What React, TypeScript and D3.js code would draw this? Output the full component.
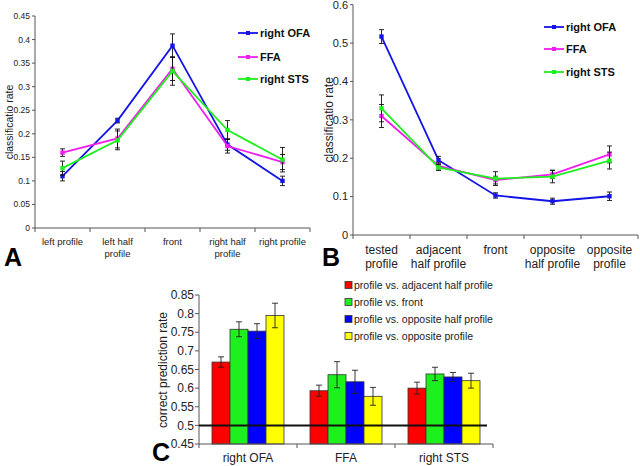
import React from "react";
import * as d3 from "d3";

const seriesNames = ["right OFA", "FFA", "right STS"];
const seriesColors = ["#1414e6", "#f01ef0", "#1ef01e"];

const catsA = [["left profile"], ["left half", "profile"], ["front"], ["right half", "profile"], ["right profile"]];
const valsA = [
  [0.11, 0.228, 0.387, 0.177, 0.1],
  [0.16, 0.19, 0.338, 0.174, 0.14],
  [0.127, 0.186, 0.333, 0.208, 0.145],
];
const errA = [
  [0.01, 0.005, 0.025, 0.012, 0.01],
  [0.008, 0.02, 0.025, 0.015, 0.016],
  [0.015, 0.02, 0.03, 0.02, 0.026],
];
const ticksA = [0, 0.05, 0.1, 0.15, 0.2, 0.25, 0.3, 0.35, 0.4, 0.45];

const catsB = [["tested", "profile"], ["adjacent", "half profile"], ["front"], ["opposite", "half profile"], ["opposite", "profile"]];
const valsB = [
  [0.517, 0.195, 0.103, 0.088, 0.101],
  [0.31, 0.18, 0.143, 0.158, 0.21],
  [0.33, 0.176, 0.147, 0.152, 0.194],
];
const errB = [
  [0.018, 0.01, 0.007, 0.008, 0.011],
  [0.03, 0.008, 0.01, 0.011, 0.022],
  [0.035, 0.008, 0.018, 0.016, 0.022],
];
const ticksB = [0, 0.1, 0.2, 0.3, 0.4, 0.5, 0.6];

const groupsC = ["right OFA", "FFA", "right STS"];
const barNamesC = ["profile vs. adjacent half profile", "profile vs. front", "profile vs. opposite half profile", "profile vs. opposite profile"];
const barColorsC = ["#ff0000", "#1ef01e", "#0000ff", "#ffff00"];
const valsC = [
  [0.67, 0.758, 0.753, 0.795],
  [0.593, 0.636, 0.617, 0.578],
  [0.6, 0.638, 0.63, 0.62],
];
const errC = [
  [0.014, 0.02, 0.02, 0.033],
  [0.015, 0.035, 0.031, 0.024],
  [0.016, 0.018, 0.012, 0.02],
];
const ticksC = [0.45, 0.5, 0.55, 0.6, 0.65, 0.7, 0.75, 0.8, 0.85];

const FONT = "Liberation Sans, Arial, sans-serif";
const AXIS = "#555";

type LP = {
  x0: number; x1: number; y0: number; y1: number; dom: number[];
  cats: string[][]; vals: number[][]; errs: number[][]; ticks: number[];
  tickFont: number; catFont: number; catY: number; lineH: number;
  yLabelX: number; yLabelFont: number; legX: number; legY: number[]; legFont: number;
  fmt: (v: number) => string;
};

function LinePanel(p: LP) {
  const x = d3.scaleBand<number>().domain(d3.range(p.cats.length)).range([p.x0, p.x1]);
  const y = d3.scaleLinear().domain(p.dom).range([p.y0, p.y1]);
  const line = d3.line<number>().x((_, i) => (x(i) as number) + x.bandwidth() / 2).y((v) => y(v));
  const bounds = d3.range(p.cats.length + 1).map((i) => p.x0 + i * x.step());
  return (
    <g fontFamily={FONT}>
      <line x1={p.x0} x2={p.x0} y1={p.y0} y2={p.y1} stroke={AXIS} />
      <line x1={p.x0} x2={p.x1} y1={p.y0} y2={p.y0} stroke={AXIS} />
      {p.ticks.map((t) => (
        <g key={t}>
          <line x1={p.x0 - 3} x2={p.x0} y1={y(t)} y2={y(t)} stroke={AXIS} />
          <text x={p.x0 - 5} y={y(t)} dy="0.35em" textAnchor="end" fontSize={p.tickFont} fill="#222">{p.fmt(t)}</text>
        </g>
      ))}
      {bounds.map((b, i) => (
        <line key={i} x1={b} x2={b} y1={p.y0} y2={p.y0 + 4} stroke={AXIS} />
      ))}
      {p.cats.map((c, i) => (
        <text key={i} x={(x(i) as number) + x.bandwidth() / 2} y={p.catY} textAnchor="middle" fontSize={p.catFont} fill="#222">
          {c.map((s, j) => (
            <tspan key={j} x={(x(i) as number) + x.bandwidth() / 2} dy={j === 0 ? 0 : p.lineH}>{s}</tspan>
          ))}
        </text>
      ))}
      <text transform={`translate(${p.yLabelX},${(p.y0 + p.y1) / 2}) rotate(-90)`} textAnchor="middle" dy="0.35em" fontSize={p.yLabelFont} fill="#222">classificatio rate</text>
      {p.vals.map((vs, s) => (
        <g key={s}>
          <path d={line(vs) || ""} fill="none" stroke={seriesColors[s]} strokeWidth={1.8} />
          {vs.map((v, i) => {
            const cx = (x(i) as number) + x.bandwidth() / 2;
            const e = p.errs[s][i];
            return (
              <g key={i}>
                <line x1={cx} x2={cx} y1={y(v - e)} y2={y(v + e)} stroke="#111" strokeWidth={0.9} />
                <line x1={cx - 2.5} x2={cx + 2.5} y1={y(v - e)} y2={y(v - e)} stroke="#111" strokeWidth={0.9} />
                <line x1={cx - 2.5} x2={cx + 2.5} y1={y(v + e)} y2={y(v + e)} stroke="#111" strokeWidth={0.9} />
                <rect x={cx - 2.2} y={y(v) - 2.2} width={4.4} height={4.4} fill={seriesColors[s]} />
              </g>
            );
          })}
        </g>
      ))}
      {seriesNames.map((n, s) => (
        <g key={n}>
          <line x1={p.legX} x2={p.legX + 20} y1={p.legY[s]} y2={p.legY[s]} stroke={seriesColors[s]} strokeWidth={1.8} />
          <rect x={p.legX + 8} y={p.legY[s] - 2} width={4} height={4} fill={seriesColors[s]} />
          <text x={p.legX + 22} y={p.legY[s]} dy="0.35em" fontSize={p.legFont} fontWeight="bold" fill="#111">{n}</text>
        </g>
      ))}
    </g>
  );
}

function BarPanel() {
  const x0 = 199, x1 = 493, y0 = 444, y1 = 295;
  const xg = d3.scaleBand<number>().domain(d3.range(groupsC.length)).range([x0, x1]);
  const xb = d3.scaleBand<number>().domain(d3.range(barNamesC.length)).range([0, 72]);
  const y = d3.scaleLinear().domain([0.45, 0.85]).range([y0, y1]);
  const bounds = d3.range(groupsC.length + 1).map((i) => x0 + i * xg.step());
  const legX = 345, legY = [285, 302, 319, 336];
  return (
    <g fontFamily={FONT}>
      {valsC.map((vs, g) => {
        const gx = (xg(g) as number) + xg.bandwidth() / 2 - 36;
        return (
          <g key={g}>
            {vs.map((v, b) => {
              const bx = gx + (xb(b) as number);
              const cx = bx + xb.bandwidth() / 2;
              const e = errC[g][b];
              return (
                <g key={b}>
                  <rect x={bx} y={y(v)} width={xb.bandwidth()} height={y0 - y(v)} fill={barColorsC[b]} stroke="#333" strokeWidth={0.8} />
                  <line x1={cx} x2={cx} y1={y(v - e)} y2={y(v + e)} stroke="#222" strokeWidth={0.9} />
                  <line x1={cx - 3} x2={cx + 3} y1={y(v - e)} y2={y(v - e)} stroke="#222" strokeWidth={0.9} />
                  <line x1={cx - 3} x2={cx + 3} y1={y(v + e)} y2={y(v + e)} stroke="#222" strokeWidth={0.9} />
                </g>
              );
            })}
          </g>
        );
      })}
      <line x1={x0} x2={x0} y1={y0} y2={y1} stroke={AXIS} />
      <line x1={x0} x2={x1} y1={y0} y2={y0} stroke={AXIS} />
      {ticksC.map((t) => (
        <g key={t}>
          <line x1={x0 - 4} x2={x0} y1={y(t)} y2={y(t)} stroke={AXIS} />
          <text x={x0 - 5} y={y(t)} dy="0.35em" textAnchor="end" fontSize={12} fill="#222">{d3.format("")(t)}</text>
        </g>
      ))}
      {bounds.map((b, i) => (
        <line key={i} x1={b} x2={b} y1={y0} y2={y0 + 4} stroke={AXIS} />
      ))}
      {groupsC.map((g, i) => (
        <text key={g} x={(xg(i) as number) + xg.bandwidth() / 2} y={462} textAnchor="middle" fontSize={12} fill="#222">{g}</text>
      ))}
      <line x1={x0} x2={487} y1={y(0.5)} y2={y(0.5)} stroke="#111" strokeWidth={2} />
      <text transform={`translate(163,370) rotate(-90)`} textAnchor="middle" dy="0.35em" fontSize={12} fill="#222">correct prediction rate</text>
      {barNamesC.map((n, i) => (
        <g key={n}>
          <rect x={legX} y={legY[i] - 3.5} width={7} height={7} fill={barColorsC[i]} stroke="#333" strokeWidth={0.8} />
          <text x={legX + 9} y={legY[i]} dy="0.35em" fontSize={10.5} fill="#222">{n}</text>
        </g>
      ))}
    </g>
  );
}

export default function App() {
  return (
    <svg width={640} height={466} style={{ position: "absolute", left: 0, top: 0, background: "#fff" }}>
      <rect width={640} height={466} fill="#fff" />
      <LinePanel x0={35} x1={310} y0={228} y1={16} dom={[0, 0.45]} cats={catsA} vals={valsA} errs={errA} ticks={ticksA}
        tickFont={8.5} catFont={9.5} catY={245} lineH={12} yLabelX={9} yLabelFont={10.5}
        legX={238} legY={[33, 57, 79]} legFont={11} fmt={(v) => d3.format("")(+v.toFixed(2))} />
      <LinePanel x0={353} x1={638} y0={235} y1={4.7} dom={[0, 0.6]} cats={catsB} vals={valsB} errs={errB} ticks={ticksB}
        tickFont={11} catFont={12} catY={254} lineH={14} yLabelX={329} yLabelFont={12}
        legX={544} legY={[27, 49, 72]} legFont={11} fmt={(v) => d3.format("")(+v.toFixed(1))} />
      <BarPanel />
      <text x={4} y={266} fontFamily={FONT} fontWeight="bold" fontSize={25} fill="#000">A</text>
      <text x={322} y={266} fontFamily={FONT} fontWeight="bold" fontSize={25} fill="#000">B</text>
      <text x={152} y={461} fontFamily={FONT} fontWeight="bold" fontSize={25} fill="#000">C</text>
    </svg>
  );
}
